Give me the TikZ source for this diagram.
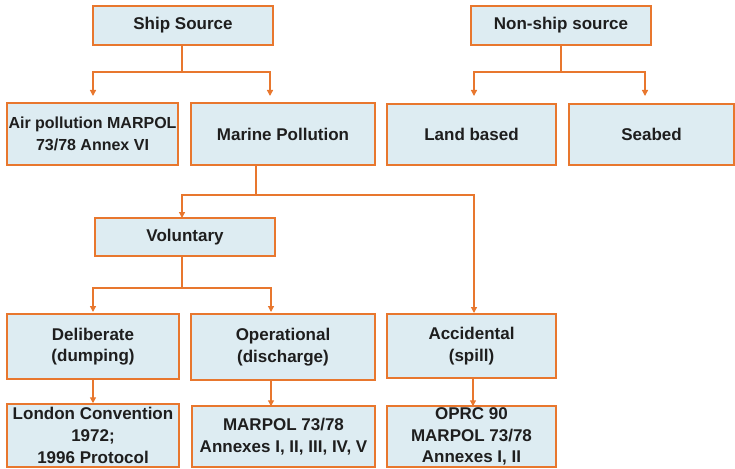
\documentclass[tikz,border=0pt]{standalone}
\usepackage{fontspec}
\setmainfont{Liberation Sans}
\usetikzlibrary{arrows.meta}
\definecolor{boxfill}{HTML}{DDECF2}
\definecolor{boxline}{HTML}{E8772E}
\definecolor{txt}{HTML}{1E1E1E}
\tikzset{
  pbox/.style={rectangle, draw=boxline, fill=boxfill, line width=1.5pt, inner sep=0pt,
    align=center, text=txt, font=\bfseries\fontsize{17}{21.7}\selectfont},
  conn/.style={draw=boxline, line width=1.3pt},
  arr/.style={conn, -{Triangle[width=6pt,length=6pt]}}
}
\begin{document}
\begin{tikzpicture}[x=1pt,y=-1pt]
\useasboundingbox (0,0) rectangle (735,468);
% level 1
\node[pbox, minimum width=180pt, minimum height=39pt] (ship) at (183,25.5) {Ship Source};
\node[pbox, minimum width=180pt, minimum height=39pt] (nonship) at (561,25.5) {Non-ship source};
% level 2
\node[pbox, minimum width=171pt, minimum height=62pt, font=\bfseries\fontsize{16}{21.7}\selectfont] (air) at (92.5,134) {Air pollution MARPOL\\73/78 Annex VI};
\node[pbox, minimum width=184pt, minimum height=62pt] (marine) at (283,134) {Marine Pollution};
\node[pbox, minimum width=169pt, minimum height=61pt] (land) at (471.5,134.5) {Land based};
\node[pbox, minimum width=165pt, minimum height=61pt] (seabed) at (651.5,134.5) {Seabed};
% level 3
\node[pbox, minimum width=180pt, minimum height=38pt] (vol) at (185,237) {Voluntary};
% level 4
\node[pbox, minimum width=172pt, minimum height=65pt] (delib) at (93,346.5) {Deliberate\\(dumping)};
\node[pbox, minimum width=184pt, minimum height=66pt] (oper) at (283,347) {Operational\\(discharge)};
\node[pbox, minimum width=169pt, minimum height=64pt] (accid) at (471.5,346) {Accidental\\(spill)};
% level 5
\node[pbox, minimum width=172pt, minimum height=63pt] (london) at (93,435.5) {London Convention\\1972;\\1996 Protocol};
\node[pbox, minimum width=183pt, minimum height=61pt] (marpol) at (283.5,436.5) {MARPOL 73/78\\Annexes I, II, III, IV, V};
\node[pbox, minimum width=169pt, minimum height=61pt] (oprc) at (471.5,436.5) {OPRC 90\\MARPOL 73/78\\Annexes I, II};
% junction coordinates
\coordinate (shipj) at (182,72);
\coordinate (airtip) at (93,96);
\coordinate (martip) at (270,96);
\coordinate (nonj) at (561,72);
\coordinate (landtip) at (474,96);
\coordinate (seatip) at (645,96);
\coordinate (marj) at (256,195);
\coordinate (voltip) at (182,218);
\coordinate (acctip) at (474,313);
\coordinate (volj) at (182,288);
\coordinate (deltip) at (93,312);
\coordinate (optip) at (271,312);
% connectors
\draw[conn] (ship.south -| shipj) -- (shipj);
\draw[arr] (shipj) -| (airtip);
\draw[arr] (shipj) -| (martip);
\draw[conn] (nonship.south -| nonj) -- (nonj);
\draw[arr] (nonj) -| (landtip);
\draw[arr] (nonj) -| (seatip);
\draw[conn] (marine.south -| marj) -- (marj);
\draw[arr] (marj) -| (voltip);
\draw[arr] (marj) -| (acctip);
\draw[conn] (vol.south -| volj) -- (volj);
\draw[arr] (volj) -| (deltip);
\draw[arr] (volj) -| (optip);
\draw[arr] (delib.south -| 93,0) -- (london.north -| 93,0);
\draw[arr] (oper.south -| 271,0) -- ([yshift=-1pt]marpol.north -| 271,0);
\draw[arr] (accid.south -| 473,0) -- ([yshift=-1pt]oprc.north -| 473,0);
\end{tikzpicture}
\end{document}
